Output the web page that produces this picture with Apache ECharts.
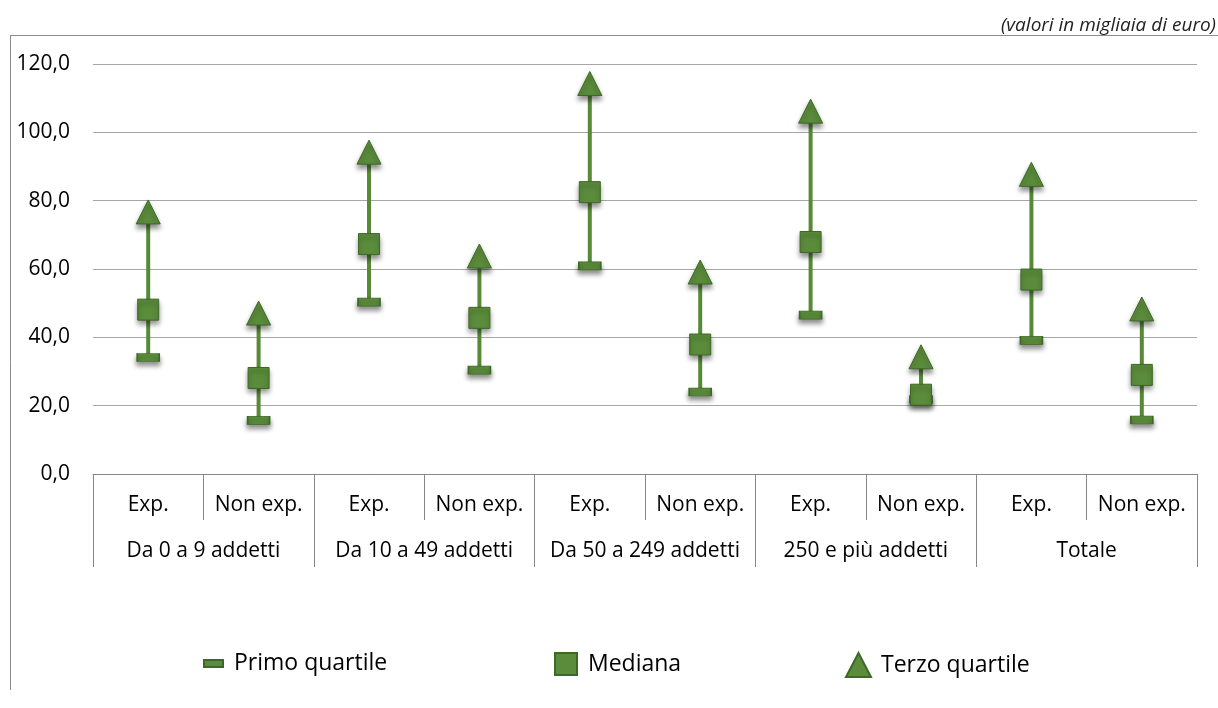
<!DOCTYPE html>
<html>
<head>
<meta charset="utf-8">
<script src="https://cdn.jsdelivr.net/npm/echarts@6/dist/echarts.min.js"></script>
<style>html,body{margin:0;padding:0;background:#fff}#c{width:1218px;height:708px}</style>
</head>
<body>
<div id="c"></div>
<script>
const subCategories = ['Exp.', 'Non exp.', 'Exp.', 'Non exp.', 'Exp.', 'Non exp.', 'Exp.', 'Non exp.', 'Exp.', 'Non exp.'];
const groups = ['Da 0 a 9 addetti', 'Da 10 a 49 addetti', 'Da 50 a 249 addetti', '250 e più addetti', 'Totale'];
const primoQuartile = [34.1, 15.7, 50.3, 30.4, 60.9, 24.0, 46.5, 21.8, 39.1, 15.8];
const mediana = [48.1, 28.1, 67.3, 45.7, 82.5, 37.9, 67.9, 23.2, 56.9, 29.0];
const terzoQuartile = [76.7, 47.1, 94.2, 63.8, 114.3, 59.1, 106.2, 34.3, 87.7, 48.3];
const yTicks = [0, 20, 40, 60, 80, 100, 120];
const unitNote = '(valori in migliaia di euro)';

const FONT = 'Open Sans';
const GREEN = '#5b8c3b';
const DARK = '#3d6826';
const LINE = '#568a37';

const chart = echarts.init(document.getElementById('c'), null, {renderer: 'canvas'});
const shadow = {shadowBlur: 5, shadowOffsetY: 4, shadowColor: 'rgba(0,0,0,0.45)'};

chart.setOption({
  animation: false,
  backgroundColor: '#fff',
  textStyle: {fontFamily: FONT},
  title: {
    text: unitNote, right: 2, top: 16, padding: 0,
    textStyle: {fontFamily: FONT, fontSize: 19, fontStyle: 'italic', fontWeight: 'normal', color: '#222'}
  },
  graphic: [
    {type: 'line', shape: {x1: 10, y1: 35.5, x2: 1218, y2: 35.5}, style: {stroke: '#8c8c8c', lineWidth: 1}, silent: true},
    {type: 'line', shape: {x1: 10.5, y1: 35, x2: 10.5, y2: 690}, style: {stroke: '#8c8c8c', lineWidth: 1}, silent: true}
  ],
  grid: {left: 93, right: 21, top: 64, bottom: 234, containLabel: false},
  legend: [
    {data: [{name: 'Primo quartile', icon: 'rect'}], left: 203, top: 652, padding: 0, itemWidth: 19, itemHeight: 7, itemGap: 6,
      textStyle: {fontFamily: FONT, fontSize: 23, color: '#000', padding: [0, 0, 0, 6]}},
    {data: [{name: 'Mediana', icon: 'rect'}], left: 554, top: 652, padding: 0, itemWidth: 22, itemHeight: 22, itemGap: 6,
      textStyle: {fontFamily: FONT, fontSize: 23, color: '#000', padding: [0, 0, 0, 6]}},
    {data: [{name: 'Terzo quartile', icon: 'triangle'}], left: 845, top: 652, padding: 0, itemWidth: 25, itemHeight: 24, itemGap: 6,
      textStyle: {fontFamily: FONT, fontSize: 23, color: '#000', padding: [0, 0, 0, 5]}}
  ],
  xAxis: [
    {
      type: 'category', data: subCategories, position: 'bottom',
      axisLine: {show: true, lineStyle: {color: '#868686', width: 1}},
      axisTick: {show: true, length: 46, alignWithLabel: false, lineStyle: {color: '#868686'}},
      axisLabel: {fontFamily: FONT, fontSize: 21, color: '#000', margin: 21, interval: 0},
      splitLine: {show: false}
    },
    {
      type: 'category', data: groups, position: 'bottom', offset: 46,
      axisLine: {show: false},
      axisTick: {show: true, length: 47, alignWithLabel: false, lineStyle: {color: '#868686'}},
      axisLabel: {fontFamily: FONT, fontSize: 21, color: '#000', margin: 21, interval: 0},
      splitLine: {show: false}
    }
  ],
  yAxis: {
    type: 'value', min: yTicks[0], max: yTicks[yTicks.length - 1], interval: 20,
    axisLine: {show: false}, axisTick: {show: false},
    axisLabel: {fontFamily: FONT, fontSize: 21, color: '#000', margin: 23,
      formatter: v => v.toFixed(1).replace('.', ',')},
    splitLine: {lineStyle: {color: '#a6a6a6', width: 1}}
  },
  series: [
    {
      name: 'range', type: 'custom', xAxisIndex: 0, z: 1,
      data: subCategories.map((c, i) => [i, primoQuartile[i], terzoQuartile[i]]),
      renderItem: (params, api) => {
        const p1 = api.coord([api.value(0), api.value(1)]);
        const p2 = api.coord([api.value(0), api.value(2)]);
        return {type: 'line', shape: {x1: p1[0], y1: p1[1], x2: p2[0], y2: p2[1]},
          style: {stroke: LINE, lineWidth: 4}};
      },
      silent: true
    },
    {
      name: 'Primo quartile', type: 'line', xAxisIndex: 0, data: primoQuartile, z: 3,
      symbol: 'rect', symbolSize: [22, 8], showSymbol: true, lineStyle: {width: 0, opacity: 0},
      itemStyle: Object.assign({color: GREEN, borderColor: DARK, borderWidth: 1}, shadow)
    },
    {
      name: 'Mediana', type: 'line', xAxisIndex: 0, data: mediana, z: 4,
      symbol: 'rect', symbolSize: [21, 21], showSymbol: true, lineStyle: {width: 0, opacity: 0},
      itemStyle: Object.assign({color: GREEN, borderColor: DARK, borderWidth: 1}, shadow)
    },
    {
      name: 'Terzo quartile', type: 'line', xAxisIndex: 0, data: terzoQuartile, z: 5,
      symbol: 'triangle', symbolSize: [24, 24], showSymbol: true, lineStyle: {width: 0, opacity: 0},
      itemStyle: Object.assign({color: GREEN, borderColor: DARK, borderWidth: 1}, shadow)
    }
  ]
});
</script>
</body>
</html>
